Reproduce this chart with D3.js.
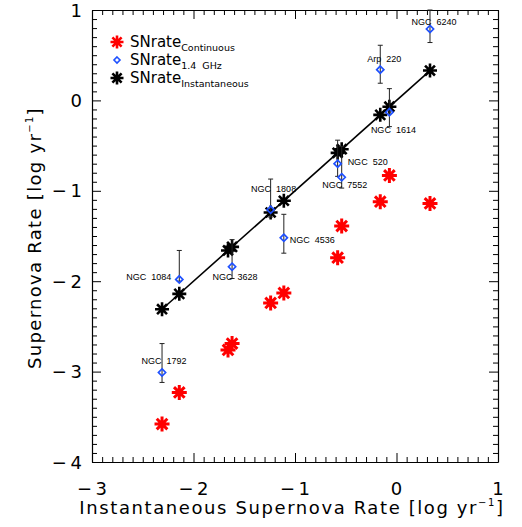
<!DOCTYPE html>
<html>
<head>
<meta charset="utf-8">
<script src="https://cdn.jsdelivr.net/npm/d3@7/dist/d3.min.js"></script>
<style>
  body { margin: 0; background: #fff; }
  text { font-family: "DejaVu Sans", sans-serif; }
  .lbl { font-family: "Liberation Sans", Arial, sans-serif; font-size: 9px; white-space: pre; }
</style>
</head>
<body>
<div id="chart"></div>
<script>
// galaxies, ordered by instantaneous rate
const galaxies = ['NGC 1792', 'NGC 1084', '', 'NGC 3628', 'NGC 1808', 'NGC 4536',
                  'NGC 520', 'NGC 7552', 'Arp 220', 'NGC 1614', 'NGC 6240'];
const snInstant = [-2.31, -2.14, -1.66, -1.62, -1.24, -1.11, -0.58, -0.54, -0.16, -0.07, 0.33];
const snContinuous = [-3.58, -3.23, -2.76, -2.69, -2.24, -2.13, -1.74, -1.39, -1.12, -0.83, -1.14];
// 1.4 GHz rate (null = no radio value)
const sn14 = [-3.01, -1.98, null, -1.84, -1.21, -1.52, -0.70, -0.85, 0.34, -0.13, 0.79];
const sn14Hi = [-2.69, -1.66, null, -1.54, -0.87, -1.26, -0.44, -0.51, 0.61, 0.13, 1.00];
const sn14Lo = [-3.12, -2.00, null, -1.97, -1.29, -1.69, -0.84, -0.97, 0.19, -0.29, 0.64];
const xTicks = [-3, -2, -1, 0, 1];
const yTicks = [-4, -3, -2, -1, 0, 1];

// where each label sits relative to its diamond
const labelPlace = {
  'NGC 1792': [2, -9, 'middle'], 'NGC 1084': [-8, 1, 'end'], 'NGC 3628': [3, 13, 'middle'],
  'NGC 1808': [3, -18, 'middle'], 'NGC 4536': [6, 5, 'start'], 'NGC 520': [10, 1, 'start'],
  'NGC 7552': [3, 11, 'middle'], 'Arp 220': [4, -8, 'middle'], 'NGC 1614': [4, 21, 'middle'],
  'NGC 6240': [4, -4, 'middle']
};

const W = 522, H = 527;
const m = { left: 92, right: 24, top: 10, bottom: 65 };

const svg = d3.select('#chart').append('svg').attr('width', W).attr('height', H);

const x = d3.scaleLinear().domain([-3, 1]).range([m.left, W - m.right]);
const y = d3.scaleLinear().domain([-4, 1]).range([H - m.bottom, m.top]);

// ticks on all four sides, pointing inward
const xMinor = d3.range(-3, 1.001, 0.1);
const yMinor = d3.range(-4, 1.001, 0.1);
const isMajor = v => Math.abs(v - Math.round(v)) < 1e-6;

svg.append('g').attr('transform', `translate(0,${y(-4)})`)
   .call(d3.axisBottom(x).tickValues(xMinor).tickSize(0).tickFormat(''))
   .call(g => g.selectAll('.tick line').attr('y2', d => isMajor(d) ? -9 : -5));
svg.append('g').attr('transform', `translate(0,${y(1)})`)
   .call(d3.axisTop(x).tickValues(xMinor).tickSize(0).tickFormat(''))
   .call(g => g.selectAll('.tick line').attr('y2', d => isMajor(d) ? 9 : 5));
svg.append('g').attr('transform', `translate(${x(-3)},0)`)
   .call(d3.axisLeft(y).tickValues(yMinor).tickSize(0).tickFormat(''))
   .call(g => g.selectAll('.tick line').attr('x2', d => isMajor(d) ? 9 : 5));
svg.append('g').attr('transform', `translate(${x(1)},0)`)
   .call(d3.axisRight(y).tickValues(yMinor).tickSize(0).tickFormat(''))
   .call(g => g.selectAll('.tick line').attr('x2', d => isMajor(d) ? -9 : -5));
svg.selectAll('.domain').attr('stroke', '#000').attr('stroke-width', 1.2);
svg.selectAll('.tick line').attr('stroke', '#000');

const fmt = v => v < 0 ? '\u2212\u2009' + Math.abs(v) : String(v);
svg.append('g').selectAll('text').data(xTicks).join('text')
   .attr('x', d => x(d)).attr('y', 495).attr('text-anchor', 'middle')
   .attr('font-size', 18).text(fmt);
svg.append('g').selectAll('text').data(yTicks).join('text')
   .attr('x', 82).attr('y', d => y(d) + 6.5).attr('text-anchor', 'end')
   .attr('font-size', 18).text(fmt);

const xt = svg.append('text').attr('x', 292).attr('y', 514).attr('text-anchor', 'middle')
   .attr('font-size', 18).attr('letter-spacing', 1.6);
xt.append('tspan').text('Instantaneous Supernova Rate [log yr');
xt.append('tspan').attr('font-size', 10).attr('dy', -8).text('\u22121');
xt.append('tspan').attr('dy', 8).text(']');

const yt = svg.append('text').attr('transform', 'translate(41,238) rotate(-90)')
   .attr('text-anchor', 'middle').attr('font-size', 18).attr('letter-spacing', 1.3);
yt.append('tspan').text('Supernova Rate [log yr');
yt.append('tspan').attr('font-size', 10).attr('dy', -8).text('\u22121');
yt.append('tspan').attr('dy', 8).text(']');

// asterisk glyph
const star = r => {
  let p = '';
  for (let k = 0; k < 4; k++) {
    const a = k * Math.PI / 4;
    p += `M${-r * Math.cos(a)},${-r * Math.sin(a)}L${r * Math.cos(a)},${r * Math.sin(a)}`;
  }
  return p;
};

const idx = d3.range(galaxies.length);

// continuous rate
svg.append('g').selectAll('path').data(idx).join('path')
   .attr('d', star(7.5)).attr('transform', i => `translate(${x(snInstant[i])},${y(snContinuous[i])})`)
   .attr('stroke', '#ff0000').attr('stroke-width', 3).attr('fill', 'none');

// one-to-one line
svg.append('line')
   .attr('x1', x(d3.min(snInstant))).attr('y1', y(d3.min(snInstant)))
   .attr('x2', x(d3.max(snInstant))).attr('y2', y(d3.max(snInstant)))
   .attr('stroke', '#000').attr('stroke-width', 1.6);

// instantaneous rate
svg.append('g').selectAll('path').data(idx).join('path')
   .attr('d', star(7)).attr('transform', i => `translate(${x(snInstant[i])},${y(snInstant[i])})`)
   .attr('stroke', '#000').attr('stroke-width', 2.6).attr('fill', 'none');

// 1.4 GHz with error bars
const radio = idx.filter(i => sn14[i] !== null);
const eb = svg.append('g').attr('stroke', '#222').attr('stroke-width', 1);
eb.selectAll('line.v').data(radio).join('line').attr('class', 'v')
  .attr('x1', i => x(snInstant[i])).attr('x2', i => x(snInstant[i]))
  .attr('y1', i => y(sn14Hi[i])).attr('y2', i => y(sn14Lo[i]));
eb.selectAll('line.h').data(radio).join('line').attr('class', 'h')
  .attr('x1', i => x(snInstant[i]) - 2.5).attr('x2', i => x(snInstant[i]) + 2.5)
  .attr('y1', i => y(sn14Hi[i])).attr('y2', i => y(sn14Hi[i]));
eb.selectAll('line.l').data(radio).join('line').attr('class', 'l')
  .attr('x1', i => x(snInstant[i]) - 2.5).attr('x2', i => x(snInstant[i]) + 2.5)
  .attr('y1', i => y(sn14Lo[i])).attr('y2', i => y(sn14Lo[i]));

const diamond = 'M0,-3.6L3.6,0L0,3.6L-3.6,0Z';
svg.append('g').selectAll('path').data(radio).join('path')
   .attr('d', diamond).attr('transform', i => `translate(${x(snInstant[i])},${y(sn14[i])})`)
   .attr('stroke', '#1e50ff').attr('stroke-width', 1.7).attr('fill', 'none');

svg.append('g').selectAll('text').data(radio).join('text').attr('class', 'lbl')
   .attr('x', i => x(snInstant[i]) + labelPlace[galaxies[i]][0])
   .attr('y', i => y(sn14[i]) + labelPlace[galaxies[i]][1])
   .attr('text-anchor', i => labelPlace[galaxies[i]][2])
   .text(i => galaxies[i].replace(' ', '  '));

// legend
const legend = [
  { name: 'Continuous', color: '#ff0000', shape: 'star' },
  { name: '1.4 GHz', color: '#1e50ff', shape: 'diamond' },
  { name: 'Instantaneous', color: '#000', shape: 'star' }
];
const lg = svg.append('g').attr('transform', 'translate(117,42)');
legend.forEach((d, k) => {
  const row = lg.append('g').attr('transform', `translate(0,${k * 18})`);
  if (d.shape === 'star') {
    row.append('path').attr('d', star(6.5)).attr('stroke', d.color).attr('stroke-width', 2.6);
  } else {
    row.append('path').attr('d', 'M0,-3L3,0L0,3L-3,0Z').attr('stroke', d.color)
       .attr('stroke-width', 1.6).attr('fill', 'none');
  }
  const t = row.append('text').attr('x', 13).attr('y', 5).attr('font-size', 15);
  t.append('tspan').text('SNrate');
  t.append('tspan').attr('font-size', 9.5).attr('dy', 4).attr('style', 'white-space:pre')
   .text(d.name.replace(' ', '  '));
});
</script>
</body>
</html>
